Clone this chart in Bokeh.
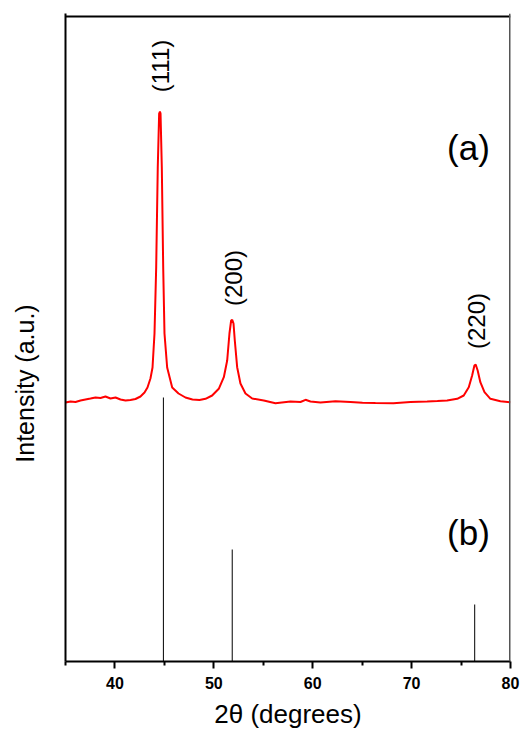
import math
from bokeh.plotting import figure
from bokeh.layouts import row
from bokeh.models import Range1d, FixedTicker, Span, Label
from bokeh.core.properties import value
from bokeh.embed import file_html
from bokeh.resources import INLINE

# measured pattern (a)
two_theta = [35.00, 35.51, 36.01, 36.52, 37.02, 37.53, 38.03, 38.54, 39.04, 39.55,
             40.06, 40.56, 41.07, 41.57, 42.08, 42.58, 42.99, 43.29, 43.59, 43.80,
             44.00, 44.17, 44.33, 44.47, 44.55, 44.61, 44.74, 44.88, 45.01, 45.28,
             45.79, 46.43, 47.13, 47.84, 48.55, 49.16, 49.83, 50.50, 51.01, 51.35,
             51.58, 51.75, 51.86, 51.99, 52.12, 52.36, 52.69, 53.20, 53.88, 55.05,
             56.23, 57.75, 58.76, 59.27, 59.77, 60.78, 62.30, 63.82, 65.03, 66.34,
             68.16, 69.88, 71.57, 72.61, 73.59, 74.61, 75.27, 75.78, 76.12, 76.35,
             76.48, 76.68, 76.95, 77.37, 77.97, 78.98, 79.99]
intensity = [259, 260, 259.5, 261, 262, 263, 264, 263.5, 265, 263,
             264, 262, 261, 261.5, 262.5, 265, 269, 274, 283, 294,
             328, 394, 494, 548, 550, 548, 494, 394, 328, 294,
             274, 268, 264, 262, 261.5, 262.7, 266, 272.7, 284.3, 301,
             328, 341, 341.7, 338, 321, 294.3, 278, 268, 263, 261,
             258.3, 260, 259.5, 261.7, 260, 259, 260.3, 259.5, 258.7, 258.5,
             258.3, 259.5, 260, 260.5, 261, 262.7, 266, 274.3, 286, 296,
             297, 291, 279.3, 269.3, 262.7, 260.3, 259.3]

# reference pattern (b)
ref_pos = [44.9, 51.86, 76.38]
ref_int = [264, 112, 57]

peak_labels = ["(111)", "(200)", "(220)"]
peak_label_x = [44.61, 51.99, 76.61]
peak_label_y = [595.5, 383.5, 340.5]

x_ticks = [40, 50, 60, 70, 80]
x_minor = [35, 45, 55, 65, 75]

FONT = "Liberation Sans"

y_range = Range1d(0, 648)

p = figure(frame_width=445, frame_height=648,
           x_range=Range1d(35, 80), y_range=y_range,
           output_backend="svg", toolbar_location=None,
           min_border_left=8, min_border_right=12, min_border_top=13,
           min_border_bottom=10)
p.outline_line_color = None
p.xgrid.visible = False
p.ygrid.visible = False
p.background_fill_color = "white"

ax = p.xaxis[0]
ax.ticker = FixedTicker(ticks=x_ticks, minor_ticks=x_minor)
ax.axis_line_width = 2
ax.axis_line_color = "black"
ax.major_tick_line_color = "black"
ax.minor_tick_line_color = "black"
ax.major_tick_line_width = 2
ax.minor_tick_line_width = 2
ax.major_tick_in = 0
ax.major_tick_out = 7
ax.minor_tick_in = 0
ax.minor_tick_out = 4
ax.major_label_text_font = FONT
ax.major_label_text_font_style = "bold"
ax.major_label_text_font_size = "16px"
ax.major_label_text_color = "black"
ax.major_label_standoff = 8
ax.axis_label = "2θ (degrees)"
ax.axis_label_text_font = FONT
ax.axis_label_text_font_style = "normal"
ax.axis_label_text_font_size = "26px"
ax.axis_label_text_color = "black"
ax.axis_label_standoff = 7

ay = p.yaxis[0]
ay.ticker = FixedTicker(ticks=[])
ay.axis_line_width = 2
ay.axis_line_color = "black"
ay.major_label_text_font_size = "0px"
ay.major_label_standoff = 0
ay.major_tick_out = 0
ay.minor_tick_out = 0
ay.major_tick_line_color = None
ay.minor_tick_line_color = None

p.add_layout(Span(location=645, dimension="width", line_color="black", line_width=2))
p.add_layout(Span(location=80, dimension="height", line_color="#555555", line_width=3))

p.line(two_theta, intensity, line_color="#ff0000", line_width=2)
p.segment(x0=ref_pos, y0=[0] * len(ref_pos), x1=ref_pos, y1=ref_int,
          line_color="black", line_width=1)

p.text(x=peak_label_x, y=peak_label_y, text=peak_labels, angle=math.pi / 2,
       text_align="center", text_baseline="middle",
       text_font=value(FONT), text_font_size="24px", text_color="black")

p.add_layout(Label(x=75.75, y=514, text="(a)", text_align="center", text_baseline="middle",
                   text_font=FONT, text_font_size="35px", text_color="black"))
p.add_layout(Label(x=75.75, y=129, text="(b)", text_align="center", text_baseline="middle",
                   text_font=FONT, text_font_size="35px", text_color="black"))

# side panel holding the y-axis title (placed lower than frame centre, as in the original)
side = figure(frame_width=57, frame_height=648, x_range=Range1d(0, 57), y_range=y_range,
              x_axis_location=None, y_axis_location=None,
              output_backend="svg", toolbar_location=None,
              min_border_left=0, min_border_right=0, min_border_top=13,
              min_border_bottom=68)
side.outline_line_color = None
side.xgrid.visible = False
side.ygrid.visible = False
side.text(x=[24], y=[278], text=["Intensity (a.u.)"], angle=math.pi / 2,
          text_align="center", text_baseline="middle",
          text_font=value(FONT), text_font_size="25px", text_color="black")

layout = row(side, p, spacing=0)

open("out.html", "w").write(file_html(layout, INLINE))
